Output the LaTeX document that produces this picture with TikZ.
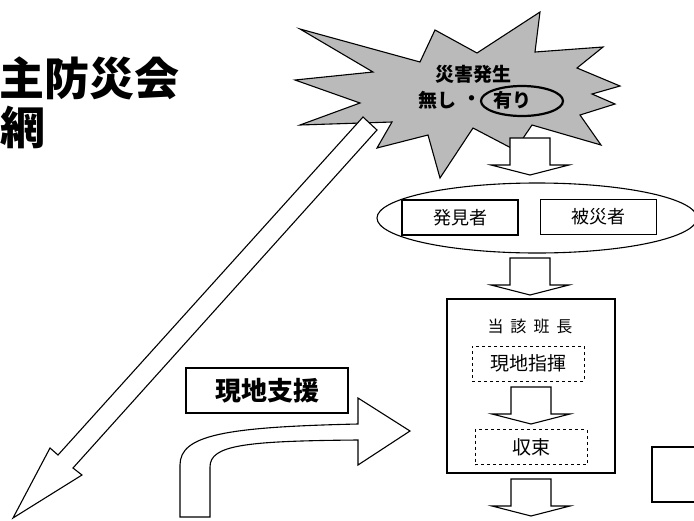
\documentclass[tikz,border=0pt]{standalone}
\usepackage{fontspec}
\setmainfont{Noto Sans CJK JP}
\usetikzlibrary{positioning, shapes.geometric}

\begin{document}
\begin{tikzpicture}[
  x=1pt, y=-1pt,
  shapeline/.style={draw, line width=1.1pt, line join=miter},
  block/.style={rectangle, draw, line width=1.1pt, minimum width=116pt, minimum height=35pt, font=\fontsize{18}{18}\selectfont},
  leader/.style={rectangle, draw, line width=2.2pt, minimum width=168pt, minimum height=174pt},
  task/.style={rectangle, draw, dashed, line width=0.8pt, minimum width=112pt, minimum height=35pt, font=\fontsize{19}{19}\selectfont},
  heading/.style={font=\fontsize{45}{48}\selectfont\bfseries, inner sep=0pt, anchor=west},
  shout/.style={font=\fontsize{19}{19}\selectfont\bfseries, inner sep=0pt},
  downarrow/.pic={\draw[shapeline, fill=white] (-20,0) -- (20,0) -- (20,27) -- (39,27) -- (0,37) -- (-39,27) -- (-20,27) -- cycle;}
]
\useasboundingbox (0,0) rectangle (694,520);

% Burst
\draw[shapeline, fill=black!27] (300,29) -- (420,62) -- (435,30) -- (477,53) -- (540,12) -- (535,52) -- (603,47) -- (577,68) -- (620,86) -- (592,94) -- (615,104) -- (580,115) -- (601,145) -- (532,125) -- (515,150) -- (473,128) -- (440,178) -- (428,135) -- (377,148) -- (392,122) -- (300,125) -- (360,103) -- (295,80) -- (373,72) -- cycle;
\node[shout] (occur) at (473,74) {災害発生};
\node[shout, anchor=west] (none) at (418,100) {無し};
\node[shout] (dot) at (472,101) {・};
\node[shout, anchor=west] (yes) at (493,100) {有り};
\node[ellipse, draw, line width=2.2pt, minimum width=82pt, minimum height=30pt] (ring) at (522,101) {};

% Big arrows
\draw[shapeline, fill=white] (363,117) -- (58,455) -- (50,448) -- (13,518) -- (82,475) -- (73,468) -- (377,130) -- cycle;
\draw[shapeline, fill=white] (180,517) -- (180,465) .. controls (180,435) and (225,427) .. (358,424) -- (358,398) -- (410,431) -- (358,465) -- (358,440) .. controls (245,441) and (210,445) .. (210,467) -- (210,517) -- cycle;

% Nodes
\node[heading] (title) at (-1,78) {主防災会};
\node[heading] (title2) at (0,127) {網};
\node[ellipse, draw, line width=1.1pt, minimum width=320pt, minimum height=70pt] (group) at (537,218) {};
\node[block] (finder) at (460,217.5) {発見者};
\node[block] (victim) at (598.5,217) {被災者};
\node[leader] (leader) at (531,386) {};
\node[font=\fontsize{16}{16}\selectfont] (chief) at (530,326) {当\hspace{7pt}該\hspace{7pt}班\hspace{7pt}長};
\node[task] (command) at (528,363.5) {現地指揮};
\node[task] (settle) at (531,447) {収束};
\node[rectangle, draw, line width=1.1pt, minimum width=80pt, minimum height=55pt] (next) at (692,474.5) {};
\node[rectangle, draw, line width=1.1pt, minimum width=162pt, minimum height=45pt, font=\fontsize{26}{26}\selectfont\bfseries] (support) at (267,390.5) {現地支援};

% Block arrows
\pic at (530,138) {downarrow};
\pic at (530,258) {downarrow};
\pic at (531,387) {downarrow};
\pic at (531,479) {downarrow};

\end{tikzpicture}
\end{document}
